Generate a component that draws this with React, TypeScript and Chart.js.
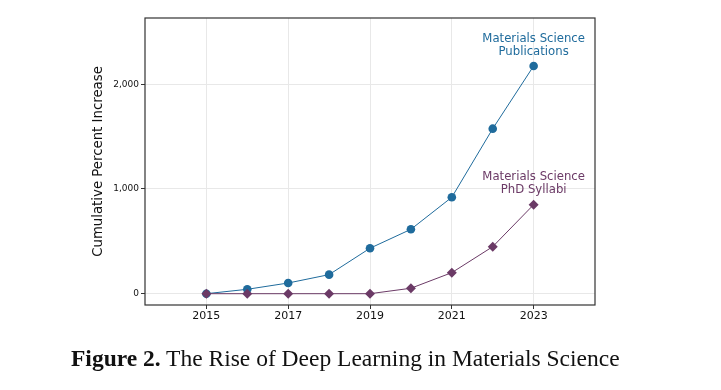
import React, { useEffect, useRef } from "react";
import { Chart, registerables } from "chart.js";

Chart.register(...registerables);

const years = [2015, 2016, 2017, 2018, 2019, 2020, 2021, 2022, 2023];
const publications = [0, 42, 102, 182, 434, 615, 921, 1576, 2175];
const syllabi = [0, 0, 0, 0, 0, 52, 201, 449, 850];
const xTicks = [2015, 2017, 2019, 2021, 2023];
const yTicks = [0, 1000, 2000];
const pubLabel = ["Materials Science", "Publications"];
const sylLabel = ["Materials Science", "PhD Syllabi"];
const yTitle = "Cumulative Percent Increase";
const caption = "The Rise of Deep Learning in Materials Science";

const BLUE = "#1f6b9c";
const PURPLE = "#6b3a66";

export default function App() {
  const ref = useRef<HTMLCanvasElement | null>(null);

  useEffect(() => {
    document.body.style.margin = "0";
    const ctx = ref.current!.getContext("2d")!;

    const framePlugin = {
      id: "frameAndLabels",
      afterDatasetsDraw(chart: any) {
        const { ctx, chartArea } = chart;
        ctx.save();
        ctx.strokeStyle = "#333";
        ctx.lineWidth = 1.2;
        ctx.strokeRect(
          chartArea.left,
          chartArea.top,
          chartArea.right - chartArea.left,
          chartArea.bottom - chartArea.top
        );
        ctx.font = "11.7px 'DejaVu Sans'";
        ctx.textAlign = "center";
        ctx.textBaseline = "middle";
        const drawLabel = (dsIndex: number, lines: string[], color: string, gap: number) => {
          const meta = chart.getDatasetMeta(dsIndex);
          const pt = meta.data[meta.data.length - 1];
          ctx.fillStyle = color;
          const n = lines.length;
          lines.forEach((l, i) => {
            ctx.fillText(l, pt.x, pt.y - gap - (n - 1 - i) * 13);
          });
        };
        drawLabel(1, pubLabel, BLUE, 14);
        drawLabel(0, sylLabel, PURPLE, 14.5);
        ctx.restore();
      },
    };

    const chart = new Chart(ctx, {
      type: "line",
      data: {
        datasets: [
          {
            label: "Materials Science PhD Syllabi",
            data: years.map((x, i) => ({ x, y: syllabi[i] })),
            borderColor: PURPLE,
            backgroundColor: PURPLE,
            borderWidth: 1,
            pointStyle: "rectRot",
            pointRadius: 5,
            pointBorderWidth: 0,
            order: 0,
          },
          {
            label: "Materials Science Publications",
            data: years.map((x, i) => ({ x, y: publications[i] })),
            borderColor: BLUE,
            backgroundColor: BLUE,
            borderWidth: 1,
            pointStyle: "circle",
            pointRadius: 4.3,
            pointBorderWidth: 0,
            order: 1,
          },
        ],
      },
      options: {
        animation: false,
        responsive: false,
        maintainAspectRatio: false,
        layout: { padding: { left: 91, top: 18, right: 126, bottom: 0 } },
        plugins: { legend: { display: false }, tooltip: { enabled: false } },
        scales: {
          x: {
            type: "linear",
            min: 2013.5,
            max: 2024.5,
            afterBuildTicks: (s: any) => {
              s.ticks = xTicks.map((v) => ({ value: v }));
            },
            afterFit: (s: any) => {
              s.height = 85;
            },
            ticks: {
              color: "#111",
              font: { family: "'DejaVu Sans'", size: 11 },
              padding: 1,
              maxRotation: 0,
              callback: (v: any) => String(v),
            },
            grid: { color: "#e8e8e8", tickColor: "#333", tickLength: 4, lineWidth: 1 },
            border: { display: false },
          },
          y: {
            type: "linear",
            min: -108,
            max: 2633,
            afterBuildTicks: (s: any) => {
              s.ticks = yTicks.map((v) => ({ value: v }));
            },
            afterFit: (s: any) => {
              s.width = 54;
            },
            ticks: {
              color: "#111",
              font: { family: "'DejaVu Sans'", size: 9 },
              padding: 2,
              callback: (v: any) => Number(v).toLocaleString("en-US"),
            },
            grid: { color: "#e8e8e8", tickColor: "#333", tickLength: 4, lineWidth: 1 },
            border: { display: false },
            title: {
              display: true,
              text: yTitle,
              color: "#111",
              font: { family: "'DejaVu Sans'", size: 13.3 },
              padding: { top: 0, bottom: 0 },
            },
          },
        },
      },
      plugins: [framePlugin],
    });
    return () => chart.destroy();
  }, []);

  return (
    <div style={{ position: "relative", width: 721, height: 390, background: "#fff" }}>
      <canvas ref={ref} width={721} height={390} style={{ display: "block" }} />
      <div
        style={{
          position: "absolute",
          left: 71,
          top: 347,
          fontFamily: "'Liberation Serif', serif",
          fontSize: 23.5,
          lineHeight: "23.5px",
          color: "#111",
          whiteSpace: "nowrap",
        }}
      >
        <b>Figure 2.</b> {caption}
      </div>
    </div>
  );
}
